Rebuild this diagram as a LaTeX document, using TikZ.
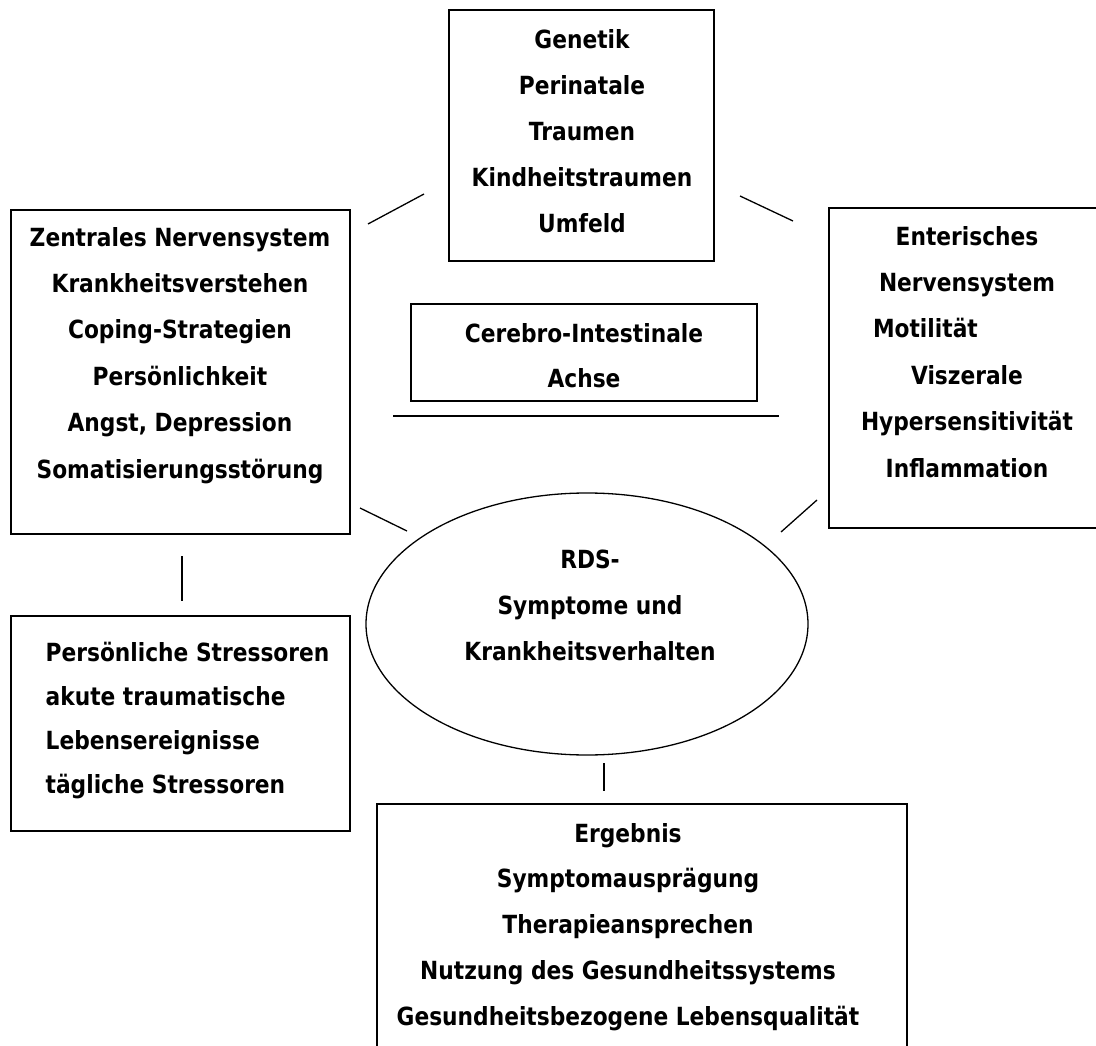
\documentclass[tikz,border=0pt]{standalone}
\usepackage{fontspec}
\newfontfamily\rdsfont{DejaVu Sans}[FakeStretch=0.87]
\usetikzlibrary{shapes.geometric}

\begin{document}
\begin{tikzpicture}[x=1pt,y=-1pt,line width=1.3pt,
		box/.style={rectangle,draw,inner sep=0pt},
		txt/.style={anchor=base,inner sep=0pt,align=center,font=\rdsfont\bfseries\fontsize{25}{#1}\selectfont},
		txt/.default=46.3]
		\useasboundingbox (0,0) rectangle (1096,1046);
		\clip (0,0) rectangle (1096,1046);
		\path (368,224) coordinate (zns_gen_a);
		\path (424,194) coordinate (zns_gen_b);
		\path (740,196) coordinate (gen_ens_a);
		\path (793,221) coordinate (gen_ens_b);
		\path (360,508) coordinate (zns_rds_a);
		\path (407,531) coordinate (zns_rds_b);
		\path (817,500) coordinate (ens_rds_a);
		\path (781,532) coordinate (ens_rds_b);
		\path (182,556) coordinate (zns_stress_a);
		\path (182,601) coordinate (zns_stress_b);
		\path (604,763) coordinate (rds_erg_a);
		\path (604,791) coordinate (rds_erg_b);
		\path (393,416) coordinate (achse_left);
		\path (779,416) coordinate (achse_right);

		% boxes
		\path (581.5,135.5) node(genetik) [box,minimum width=265pt,minimum height=251pt] {};
		\path (180.5,372) node(zns) [box,minimum width=339pt,minimum height=324pt] {};
		\path (584,352.5) node(achse) [box,minimum width=346pt,minimum height=97pt] {};
		\path (967,368) node(ens) [box,minimum width=276pt,minimum height=320pt] {};
		\path (180.5,723.5) node(stress) [box,minimum width=339pt,minimum height=215pt] {};
		\path (642,937) node(ergebnis) [box,minimum width=530pt,minimum height=266pt] {};
		\path (587,624) node(rds) [ellipse,draw,inner sep=0pt,minimum width=442pt,minimum height=262pt] {};

		% texts (placed at the baseline of the last line)
		\path (582,233) node(genetik_txt) [txt=46.25] {Genetik\\Perinatale\\Traumen\\Kindheitstraumen\\Umfeld};
		\path (180,478) node(zns_txt) [txt=46.4] {Zentrales Nervensystem\\Krankheitsverstehen\\Coping-Strategien\\Persönlichkeit\\Angst, Depression\\Somatisierungsstörung};
		\path (967,477) node(ens_txt) [txt=46.4] {Enterisches\\Nervensystem\\\makebox[188pt][l]{Motilität}\\Viszerale\\Hypersensitivität\\Inflammation};
		\path (584,387) node(achse_txt) [txt=45] {Cerebro-Intestinale\\Achse};
		\path (590,660) node(rds_txt) [txt=46] {RDS-\\Symptome und\\Krankheitsverhalten};
		\path (45,793) node(stress_txt) [txt=43.7,anchor=base west,align=left] {Persönliche Stressoren\\akute traumatische\\Lebensereignisse\\tägliche Stressoren};
		\path (628,1025) node(ergebnis_txt) [txt=45.75] {Ergebnis\\Symptomausprägung\\Therapieansprechen\\Nutzung des Gesundheitssystems\\Gesundheitsbezogene Lebensqualität};

		% connectors
		\draw (zns_gen_a) -- (zns_gen_b);
		\draw (gen_ens_a) -- (gen_ens_b);
		\draw (zns_rds_a) -- (zns_rds_b);
		\draw (ens_rds_a) -- (ens_rds_b);
		\draw (zns_stress_a) -- (zns_stress_b);
		\draw (rds_erg_a) -- (rds_erg_b);
		\draw (achse_left) -- (achse_right);
\end{tikzpicture}
\end{document}
